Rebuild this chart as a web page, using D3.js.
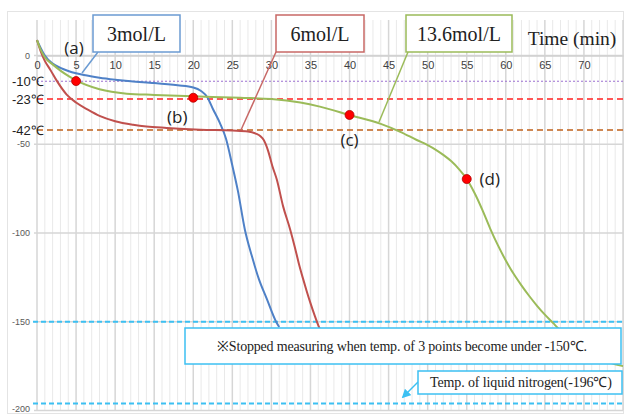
<!DOCTYPE html>
<html><head><meta charset="utf-8">
<script src="https://cdn.jsdelivr.net/npm/d3@7"></script>
<style>html,body{margin:0;padding:0;background:#fff;overflow:hidden}</style>
</head><body>
<svg id="c" width="625" height="414"></svg>
<script>
// ---- data ----
const seriesNames = ["3mol/L", "6mol/L", "13.6mol/L"];
const blueT = [0,0.5,1,2,3,4,5,6,8,10,12,15,18,20,21,21.8,22.5,23.4,24.2,25,25.7,26.6,27.5,28.4,29.4,30.6,31];
const blueV = [8.7,4,0,-4.5,-7,-8.7,-10,-11,-12.5,-13.6,-14.5,-15.5,-16.8,-18,-20,-23.5,-30,-38,-47,-62,-76,-98,-113,-126,-137,-150,-153];
const redT = [0,0.5,1,1.7,2.5,3.8,5,6.5,8,10,12.3,14,16.6,20.9,25,27,28,28.6,29,29.6,30.1,30.7,31.5,32.4,33,33.5,34,34.5,35,35.5,36,36.2];
const redV = [8.7,2,-3,-8,-14,-22,-26.5,-30.5,-34,-37,-39,-40,-40.8,-41.8,-42.3,-42.8,-44,-45.5,-47.5,-54,-62,-70,-85,-98,-108,-117,-125,-132.5,-139.5,-146,-152,-154];
const greenT = [0,0.5,1,2,3,4,5,8,11.5,15,20,26,30,33.7,36.2,40,44,46.5,48.6,50,51,52,53,54,55,56,57,58,59,60,61,62,63,64,65,66,67,68,69,70,71,72,73,74,75];
const greenV = [8.7,3,-1,-5,-8.5,-11.5,-14,-19,-21.5,-22.2,-23,-23.8,-24.5,-26.5,-28.8,-33.5,-38.5,-43,-47.6,-50.5,-53,-56,-59.5,-64,-69.6,-77.5,-87,-97.5,-107,-115.5,-123,-129.5,-135.5,-141,-146,-150.5,-155,-159,-162.5,-165.5,-168,-170.5,-172.5,-174,-175];
const markT = [5, 20, 40, 55];
const markV = [-14.4, -23.8, -33.5, -69.6];
const markLabels = ["(a)", "(b)", "(c)", "(d)"];
const refV = [-14.5, -24.5, -42];
const refLabels = ["-10℃", "-23℃", "-42℃"];
const limitV = [-150, -196];
const xTicks = [0,5,10,15,20,25,30,35,40,45,50,55,60,65,70];
const yTicks = [0,-50,-100,-150,-200];
const xTitle = "Time (min)";
const note1 = "※Stopped measuring when temp. of 3 points become under -150℃.";
const note2 = "Temp. of liquid nitrogen(-196℃)";

// ---- scales ----
const svg = d3.select("#c");
const x = d3.scaleLinear().domain([0, 75]).range([37, 623]);
const y = d3.scaleLinear().domain([-200, 20]).range([410.5, 20]);

// outer frame
svg.append("rect").attr("x", 7.5).attr("y", 11.5).attr("width", 616).attr("height", 402)
  .attr("fill", "none").attr("stroke", "#e4e4e4");

// minor vertical grid
svg.append("g").selectAll("line").data(d3.range(0, 76, 1).filter(d => d % 5 !== 0)).join("line")
  .attr("x1", d => x(d)).attr("x2", d => x(d)).attr("y1", y(20)).attr("y2", y(-200))
  .attr("stroke", "#e9e9e9").attr("stroke-width", 1);
// major vertical grid
svg.append("g").selectAll("line").data(d3.range(0, 76, 5)).join("line")
  .attr("x1", d => x(d)).attr("x2", d => x(d)).attr("y1", y(20)).attr("y2", y(-200))
  .attr("stroke", "#d6d6d6").attr("stroke-width", 1.5);
// horizontal grid
svg.append("g").selectAll("line").data(yTicks).join("line")
  .attr("x1", 34).attr("x2", x(75)).attr("y1", d => y(d)).attr("y2", d => y(d))
  .attr("stroke", "#d6d6d6").attr("stroke-width", 1.5);

// y tick labels
svg.append("g").selectAll("text").data(yTicks).join("text")
  .attr("x", 30).attr("y", d => Math.min(y(d), 409)).attr("dy", "0.35em").attr("text-anchor", "end")
  .attr("font-family", "Liberation Sans, sans-serif").attr("font-size", 9).attr("fill", "#595959")
  .text(d => d);

// x axis labels via d3.axisBottom at y=0
const xAxis = svg.append("g").attr("transform", `translate(0,${y(0)})`)
  .call(d3.axisBottom(x).tickValues(xTicks).tickSize(0).tickPadding(6));
xAxis.select(".domain").attr("stroke", "#d0d0d0").attr("stroke-width", 1.5);
xAxis.selectAll("text").attr("font-family", "Liberation Sans, sans-serif").attr("font-size", 11).attr("fill", "#404040");

// reference lines
const refColors = ["#9b6fd0", "#ff2020", "#c0601a"];
const refDash = ["2,2", "6,4", "6,4"];
svg.append("g").selectAll("line").data(refV).join("line")
  .attr("x1", x(0)).attr("x2", x(75)).attr("y1", d => y(d)).attr("y2", d => y(d))
  .attr("stroke", (d, i) => refColors[i]).attr("stroke-width", (d, i) => i === 0 ? 1 : 1.5)
  .attr("stroke-dasharray", (d, i) => refDash[i]);
svg.append("g").selectAll("text").data(refV).join("text")
  .attr("x", 12).attr("y", d => y(d)).attr("dy", "0.38em")
  .attr("font-family", "Liberation Sans, sans-serif").attr("font-size", 13).attr("fill", "#222")
  .text((d, i) => refLabels[i]);

// limit lines
svg.append("g").selectAll("line").data(limitV).join("line")
  .attr("x1", 33).attr("x2", x(75)).attr("y1", d => y(d)).attr("y2", d => y(d))
  .attr("stroke", "#3cc0f2").attr("stroke-width", 2).attr("stroke-dasharray", "5,3");

// curves
const line = d3.line().x(d => x(d[0])).y(d => y(d[1])).curve(d3.curveMonotoneX);
const series = [
  {T: blueT, V: blueV, c: "#4f81c7"},
  {T: redT, V: redV, c: "#c0504d"},
  {T: greenT, V: greenV, c: "#9bbb59"}
];
series.forEach(s => {
  svg.append("path").datum(s.T.map((t, i) => [t, s.V[i]]))
    .attr("d", line).attr("fill", "none").attr("stroke", s.c).attr("stroke-width", 2);
});

// markers
svg.append("g").selectAll("circle").data(markT).join("circle")
  .attr("cx", d => x(d)).attr("cy", (d, i) => y(markV[i])).attr("r", 4.5)
  .attr("fill", "#ff0000").attr("stroke", "#b00000").attr("stroke-width", 0.8);
const labOff = [[-2, -33.5], [-16, 19], [0, 25], [23, 0]];
svg.append("g").selectAll("text").data(markT).join("text")
  .attr("x", (d, i) => x(d) + labOff[i][0]).attr("y", (d, i) => y(markV[i]) + labOff[i][1])
  .attr("dy", "0.35em").attr("text-anchor", "middle")
  .attr("font-family", "Open Sans, sans-serif").attr("font-size", 17).attr("fill", "#222")
  .text((d, i) => markLabels[i]);

// legend callout boxes
const boxes = [
  {x0: 93, x1: 180, c: "#6b9bd2", from: [98, 52], to: [82, 73]},
  {x0: 276, x1: 364, c: "#c86866", from: [276, 52], to: [241, 130]},
  {x0: 406, x1: 512, c: "#9bbb59", from: [408, 52], to: [379, 122]}
];
boxes.forEach((b, i) => {
  svg.append("line").attr("x1", b.from[0]).attr("y1", b.from[1]).attr("x2", b.to[0]).attr("y2", b.to[1])
    .attr("stroke", b.c).attr("stroke-width", 1.5);
  svg.append("rect").attr("x", b.x0).attr("y", 15).attr("width", b.x1 - b.x0).attr("height", 37)
    .attr("fill", "#fff").attr("stroke", b.c).attr("stroke-width", 1.5);
  svg.append("text").attr("x", (b.x0 + b.x1) / 2).attr("y", 41).attr("text-anchor", "middle")
    .attr("font-family", "Liberation Serif, serif").attr("font-size", 20).attr("fill", "#222")
    .text(seriesNames[i]);
});
svg.append("text").attr("x", 572).attr("y", 45).attr("text-anchor", "middle")
  .attr("font-family", "Liberation Serif, serif").attr("font-size", 19.5).attr("fill", "#222").text(xTitle);

// note boxes
svg.append("rect").attr("x", 185).attr("y", 328).attr("width", 436).attr("height", 36)
  .attr("fill", "#fff").attr("stroke", "#3cc0f2").attr("stroke-width", 1.5);
svg.append("text").attr("x", 217).attr("y", 351)
  .attr("font-family", "Liberation Serif, serif").attr("font-size", 14).attr("fill", "#222")
  .attr("textLength", 370).attr("lengthAdjust", "spacing").text(note1);

svg.append("defs").append("marker").attr("id", "arr").attr("viewBox", "0 0 10 10")
  .attr("refX", 8).attr("refY", 5).attr("markerWidth", 6).attr("markerHeight", 6).attr("orient", "auto")
  .append("path").attr("d", "M0,0L10,5L0,10z").attr("fill", "#3cc0f2");
svg.append("line").attr("x1", 418).attr("y1", 382).attr("x2", 403).attr("y2", 397)
  .attr("stroke", "#3cc0f2").attr("stroke-width", 1.5).attr("marker-end", "url(#arr)");
svg.append("rect").attr("x", 418).attr("y", 371).attr("width", 204).attr("height", 23)
  .attr("fill", "#fff").attr("stroke", "#3cc0f2").attr("stroke-width", 1.5);
svg.append("text").attr("x", 430).attr("y", 387)
  .attr("font-family", "Liberation Serif, serif").attr("font-size", 14).attr("fill", "#222")
  .attr("textLength", 182).attr("lengthAdjust", "spacing").text(note2);
</script>
</body></html>
